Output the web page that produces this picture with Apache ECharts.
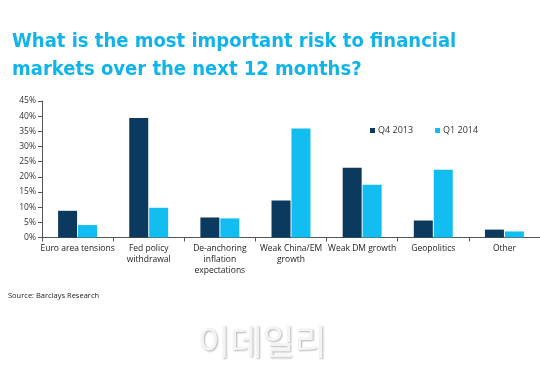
<!DOCTYPE html>
<html><head><meta charset="utf-8">
<script src="https://cdn.jsdelivr.net/npm/echarts@6/dist/echarts.min.js"></script>
<style>html,body{margin:0;padding:0;background:#fff}#c{width:540px;height:378px}</style>
</head><body><div id="c"></div>
<script>
const categories = ['Euro area tensions','Fed policy\nwithdrawal','De-anchoring\ninflation\nexpectations','Weak China/EM\ngrowth','Weak DM growth','Geopolitics','Other'];
const seriesNames = ['Q4 2013','Q1 2014'];
const q4_2013 = [8.8, 39.4, 6.6, 12.2, 23.0, 5.6, 2.6];
const q1_2014 = [4.1, 9.8, 6.3, 35.9, 17.4, 22.3, 2.0];
const titleLines = ['What is the most important risk to financial','markets over the next 12 months?'];
const sourceText = 'Source: Barclays Research';
const watermark = '이데일리';

const chart = echarts.init(document.getElementById('c'));
chart.setOption({
  backgroundColor:'#fff',
  animation:false,
  title:{text:titleLines.join('\n'), left:7, top:23,
    textStyle:{color:'#10b4ea', fontFamily:'DejaVu Sans Condensed', fontWeight:'bold', fontSize:20, lineHeight:28}},
  legend:{data:seriesNames, left:365, top:121, itemWidth:5, itemHeight:5, itemGap:22,
    icon:'rect', textStyle:{fontSize:9, color:'#333', fontFamily:'Open Sans', padding:[0,0,0,-2]}},
  grid:{left:42, top:101, width:498, height:136.5, containLabel:false},
  xAxis:{type:'category', data:categories,
    axisLine:{lineStyle:{color:'#555', width:1}},
    axisTick:{show:true, length:4, alignWithLabel:false, lineStyle:{color:'#555'}},
    axisLabel:{interval:0, color:'#222', fontSize:8.5, fontFamily:'Open Sans', lineHeight:11, margin:6}},
  yAxis:{type:'value', min:0, max:45, interval:5,
    axisLine:{show:true, lineStyle:{color:'#555'}},
    axisTick:{show:true, length:4, lineStyle:{color:'#555'}},
    splitLine:{show:false},
    axisLabel:{formatter:'{value}%', color:'#333', fontSize:8.5, fontFamily:'Open Sans', margin:6}},
  series:[
    {name:seriesNames[0], type:'bar', data:q4_2013, barWidth:19, barGap:'5%', itemStyle:{color:'#0c3a5e'}},
    {name:seriesNames[1], type:'bar', data:q1_2014, barWidth:19, barGap:'5%', itemStyle:{color:'#12bdf2'}}
  ],
  graphic:[
    {type:'text', left:8, top:292, style:{text:sourceText, fill:'#222', fontSize:7.5, fontFamily:'Open Sans'}},
    {type:'text', left:198, top:324, style:{text:watermark, fill:'#f4f4f4', fontSize:35, fontFamily:'Noto Sans CJK KR',
      textShadowColor:'rgba(0,0,0,0.3)', textShadowBlur:2, textShadowOffsetX:1, textShadowOffsetY:1}}
  ]
});
</script></body></html>
